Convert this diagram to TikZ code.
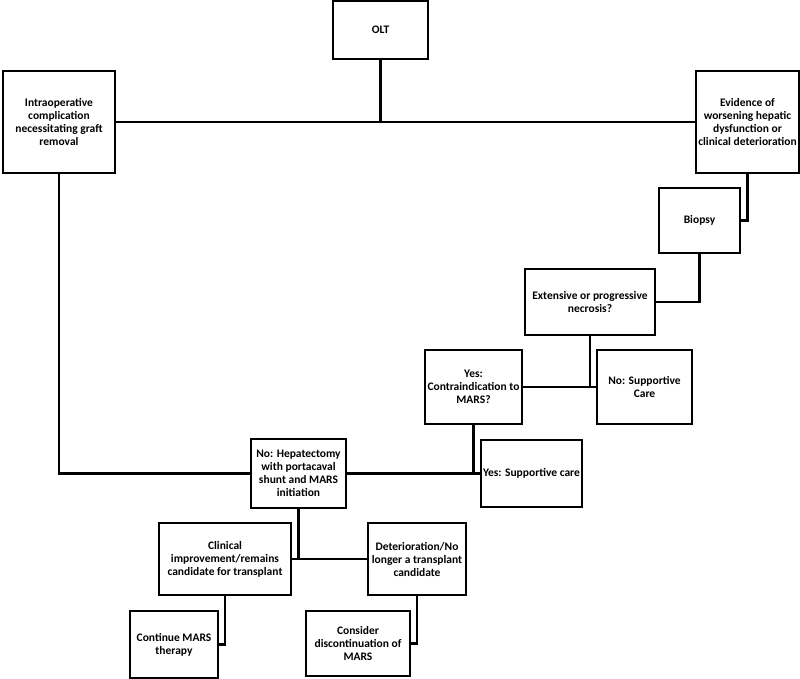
\documentclass[tikz,border=0pt]{standalone}
\usepackage{fontspec}
\setmainfont{Carlito}
\usepackage{tikz}
\usetikzlibrary{positioning, calc}

\begin{document}
\begin{tikzpicture}[x=1pt, y=-1pt,
    every node/.style={font=\fontsize{11.5}{13}\selectfont\bfseries},
    box/.style={draw, line width=2.7pt, align=center, inner sep=0pt, minimum width=#1},
    box/.default=95pt,
    link/.style={line width=2.7pt}]
            \useasboundingbox (0,0) rectangle (800,679);

            % Top row
            \node[box=95pt, minimum height=58pt] (olt) at (380.5,30) {OLT};
            \node[box=112pt, minimum height=102pt] (intra) at (59,122) {Intraoperative\\complication\\necessitating graft\\removal};
            \node[box=103pt, minimum height=102pt] (evid) at (747.5,122) {Evidence of\\worsening hepatic\\dysfunction or\\clinical deterioration};

            % Right branch
            \node[box=81pt, minimum height=65pt] (biopsy) at (699.5,220.5) {Biopsy};
            \node[box=130pt, minimum height=66pt] (necro) at (590,302) {Extensive or progressive\\necrosis?};
            \node[box=97pt, minimum height=74pt] (contra) at (473.5,387) {Yes:\\Contraindication to\\MARS?};
            \node[box=95pt, minimum height=74pt] (nosupp) at (644.5,387) {No: Supportive\\Care};
            \node[box=101pt, minimum height=67pt] (yessupp) at (531.5,473.5) {Yes: Supportive care};

            % MARS branch
            \node[box=95pt, minimum height=69pt] (hepat) at (298.5,473.5) {No: Hepatectomy\\with portacaval\\shunt and MARS\\initiation};
            \node[box=132pt, minimum height=72pt] (improve) at (225,559) {Clinical\\improvement/remains\\candidate for transplant};
            \node[box=98pt, minimum height=72pt] (deter) at (417,559) {Deterioration/No\\longer a transplant\\candidate};
            \node[box=88pt, minimum height=67pt] (cont) at (174,644.5) {Continue MARS\\therapy};
            \node[box=104pt, minimum height=65pt] (consider) at (358,643.5) {Consider\\discontinuation of\\MARS};

            % Connectors
            \draw[link] (intra.east) -- (evid.west);
            \draw[link] (olt.south) -- (olt.south |- intra.east);
            \draw[link] (intra.south) |- (hepat.west);
            \draw[link] (evid.south) |- (biopsy.east);
            \draw[link] (biopsy.south) |- (necro.east);
            \draw[link] (contra.east) -- (nosupp.west);
            \draw[link] (necro.south) -- (necro.south |- contra.east);
            \draw[link] (hepat.east) -- (yessupp.west);
            \draw[link] (contra.south) -- (contra.south |- hepat.east);
            \draw[link] (improve.east) -- (deter.west);
            \draw[link] (hepat.south) -- (hepat.south |- improve.east);
            \draw[link] (improve.south) |- (cont.east);
            \draw[link] (deter.south) |- (consider.east);
        \end{tikzpicture}
\end{document}
